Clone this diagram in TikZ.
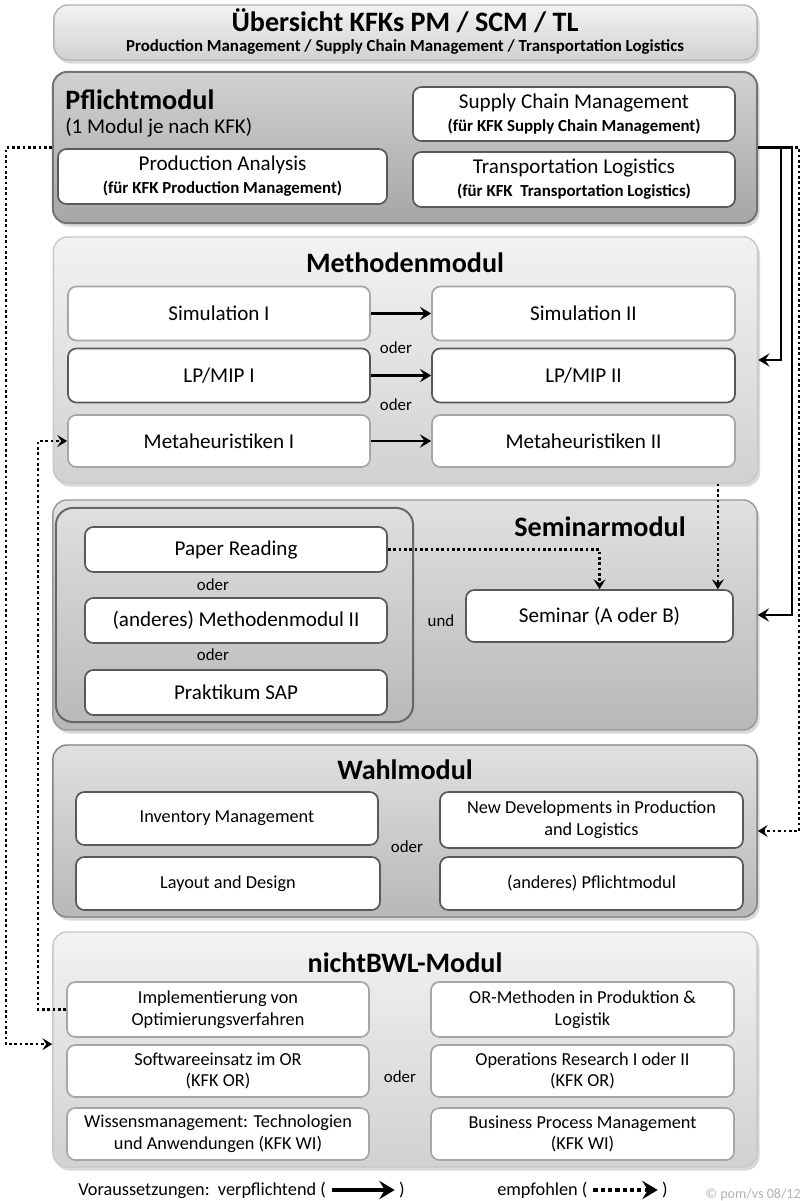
\documentclass[tikz,border=0pt]{standalone}
\usepackage{fontspec}
\setmainfont{Carlito}
\usetikzlibrary{arrows.meta,shadows}

\newcommand{\modfont}{\fontsize{20}{24}\selectfont\bfseries}
\newcommand{\kfkfont}{\fontsize{12}{14}\selectfont\bfseries}
\newcommand{\oderfont}{\fontsize{12}{14}\selectfont}

\begin{document}
\begin{tikzpicture}[x=0.025cm, y=-0.025cm,
  module/.style={draw, rectangle, rounded corners=10pt, minimum width=17.6cm, line width=1pt, drop shadow={opacity=0.3, shadow xshift=0.6mm, shadow yshift=-0.9mm}},
  lightmod/.style={module, draw=black!22, top color=black!5, bottom color=black!18},
  greymod/.style={module, draw=black!40, top color=black!12, bottom color=black!28},
  darkmod/.style={module, draw=black!55, line width=1.4pt, top color=black!18, bottom color=black!35},
  box/.style={draw=black!35, fill=white, rectangle, rounded corners=6pt, line width=1.2pt, align=center, inner sep=1pt, font=\fontsize{15}{16.5}\selectfont},
  darkbox/.style={box, draw=black!65},
  smallbox/.style={box, font=\fontsize{13}{15.5}\selectfont},
  must/.style={-{Stealth[length=8pt, width=9.5pt, inset=3.2pt]}, line width=1.5pt},
  may/.style={-{Stealth[length=7pt, width=8.5pt, inset=2.8pt]}, line width=1.9pt, dash pattern=on 1.9pt off 1.9pt}]
\useasboundingbox (0,0) rectangle (804,1201);

% title
\node (title) [lightmod, draw=black!30, minimum width=17.575cm, minimum height=1.375cm] at (405.5,32.5) {};
\node (titletext) at (405,21) {\modfont Übersicht KFKs PM / SCM / TL};
\node (subtitle) at (405,47) {\kfkfont Production Management / Supply Chain Management / Transportation Logistics};

% Pflichtmodul
\node (pflicht) [darkmod, minimum height=3.775cm] at (405,147.5) {};
\node (pflichttitle) [anchor=west, inner sep=0pt] at (65,100) {\modfont Pflichtmodul};
\node (pflichtnote) [anchor=west, inner sep=0pt, font=\fontsize{15}{17}\selectfont] at (65,128) {(1 Modul je nach KFK)};
\node (scm) [darkbox, minimum width=8.05cm, minimum height=1.35cm] at (574,114) {Supply Chain Management\\{\kfkfont (für KFK Supply Chain Management)}};
\node (pa) [darkbox, minimum width=8.225cm, minimum height=1.375cm] at (222.5,176.5) {Production Analysis\\{\kfkfont (für KFK Production Management)}};
\node (tl) [darkbox, minimum width=8.05cm, minimum height=1.375cm] at (574,179.5) {Transportation Logistics\\{\kfkfont (für KFK\ \ Transportation Logistics)}};

% Methodenmodul
\node (methoden) [lightmod, minimum height=6.15cm] at (405.5,360) {};
\node (methodentitle) at (405,263) {\modfont Methodenmodul};
\node (simA) [box, minimum width=7.55cm, minimum height=1.35cm] at (219,313.5) {Simulation I};
\node (simB) [box, minimum width=7.575cm, minimum height=1.35cm] at (583.5,313.5) {Simulation II};
\node (lpA) [darkbox, minimum width=7.55cm, minimum height=1.35cm] at (219,375.5) {LP/MIP I};
\node (lpB) [darkbox, minimum width=7.575cm, minimum height=1.35cm] at (583.5,375.5) {LP/MIP II};
\node (metaA) [box, minimum width=7.55cm, minimum height=1.3cm] at (219,441) {Metaheuristiken I};
\node (metaB) [box, minimum width=7.575cm, minimum height=1.3cm] at (583.5,441) {Metaheuristiken II};
\node (oder1) at (396,348) {\oderfont oder};
\node (oder2) at (396,405) {\oderfont oder};

% Seminarmodul
\node (seminar) [greymod, minimum height=5.75cm] at (405,615) {};
\node (seminartitle) at (600,527) {\modfont Seminarmodul};
\node (choice) [draw=black!60, line width=1.4pt, rounded corners=12pt, minimum width=8.925cm, minimum height=5.35cm] at (234.5,615) {};
\node (paper) [darkbox, minimum width=7.55cm, minimum height=1.125cm] at (236,549.5) {Paper Reading};
\node (oder3) at (213,585) {\oderfont oder};
\node (methII) [darkbox, minimum width=7.55cm, minimum height=1.125cm] at (236,620.5) {(anderes) Methodenmodul II};
\node (oder4) at (213,655) {\oderfont oder};
\node (sap) [darkbox, minimum width=7.55cm, minimum height=1.125cm] at (236,692.5) {Praktikum SAP};
\node (und) at (441,621) {\oderfont und};
\node (seminarbox) [darkbox, minimum width=6.675cm, minimum height=1.3cm] at (599.5,616) {Seminar (A oder B)};

% Wahlmodul
\node (wahl) [greymod, draw=black!50, minimum height=4.3cm] at (405,831) {};
\node (wahltitle) at (405,770) {\modfont Wahlmodul};
\node (inv) [smallbox, draw=black!65, minimum width=7.55cm, minimum height=1.325cm] at (227,818.5) {Inventory Management};
\node (newdev) [smallbox, draw=black!65, minimum width=7.575cm, minimum height=1.4cm] at (591.5,820) {New Developments in Production\\and Logistics};
\node (oder5) at (407,847) {\oderfont oder};
\node (layout) [smallbox, draw=black!65, minimum width=7.6cm, minimum height=1.325cm] at (228,883.5) {Layout and Design};
\node (anderes) [smallbox, draw=black!65, minimum width=7.575cm, minimum height=1.325cm] at (591.5,883.5) {(anderes) Pflichtmodul};

% nichtBWL-Modul
\node (nicht) [lightmod, minimum height=5.875cm] at (405,1049.5) {};
\node (nichttitle) at (405,963) {\modfont nichtBWL-Modul};
\node (impl) [smallbox, minimum width=7.55cm, minimum height=1.375cm] at (218,1009.5) {Implementierung von\\Optimierungsverfahren};
\node (ormeth) [smallbox, minimum width=7.575cm, minimum height=1.375cm] at (582.5,1009.5) {OR-Methoden in Produktion \&\\Logistik};
\node (soft) [smallbox, minimum width=7.55cm, minimum height=1.3cm] at (218,1071) {Softwareeinsatz im OR\\(KFK OR)};
\node (opres) [smallbox, minimum width=7.575cm, minimum height=1.3cm] at (582.5,1071) {Operations Research I oder II\\(KFK OR)};
\node (oder6) at (400,1077) {\oderfont oder};
\node (wiss) [smallbox, minimum width=7.55cm, minimum height=1.3cm] at (218,1134) {Wissensmanagement: Technologien\\und Anwendungen (KFK WI)};
\node (bpm) [smallbox, minimum width=7.575cm, minimum height=1.3cm] at (582.5,1134) {Business Process Management\\(KFK WI)};

% legend
\node (legmust) [anchor=west, inner sep=0pt, font=\fontsize{13}{15}\selectfont] at (78,1190) {Voraussetzungen:\ \ verpflichtend (};
\node (legmustend) [inner sep=0pt, font=\fontsize{13}{15}\selectfont] at (402,1190) {)};
\node (legmay) [anchor=west, inner sep=0pt, font=\fontsize{13}{15}\selectfont] at (497,1190) {empfohlen (};
\node (legmayend) [inner sep=0pt, font=\fontsize{13}{15}\selectfont] at (665,1190) {)};
\node (copy) [anchor=east, inner sep=0pt, text=black!30, font=\fontsize{10}{12}\selectfont] at (801,1195) {© pom/vs 08/12};

% connectors
\draw[must, line width=2.1pt] (simA) -- (simB);
\draw[must, line width=2.1pt] (lpA) -- (lpB);
\draw[must, line width=2.1pt] (metaA) -- (metaB);
\draw[may] (pflicht.east) -- ++(41,0) |- (wahl.east);
\draw[must] (pflicht.east) -- ++(34,0) |- (seminar.east);
\draw[must] (pflicht.east) -- ++(23,0) |- (methoden.east);
\draw[may] (pflicht.west) -- ++(-46,0) |- (soft.north -| nicht.west);
\draw[may] (impl.west) -- ++(-28,0) |- (metaA.west);
\draw[may] (paper.east) -| (seminarbox.north);
\coordinate (semin) at ([xshift=-0.4cm]seminarbox.north east);
\draw[may] (methoden.south -| semin) -- (semin);
\draw[-{Stealth[length=11pt, width=13pt, inset=4pt]}, line width=3.2pt] ([xshift=4pt]legmust.east) -- ([xshift=-3pt]legmustend.west);
\draw[-{Stealth[length=11pt, width=13pt, inset=4pt]}, line width=3.2pt, dash pattern=on 3pt off 2.2pt] ([xshift=4pt]legmay.east) -- ([xshift=-3pt]legmayend.west);
\end{tikzpicture}
\end{document}
